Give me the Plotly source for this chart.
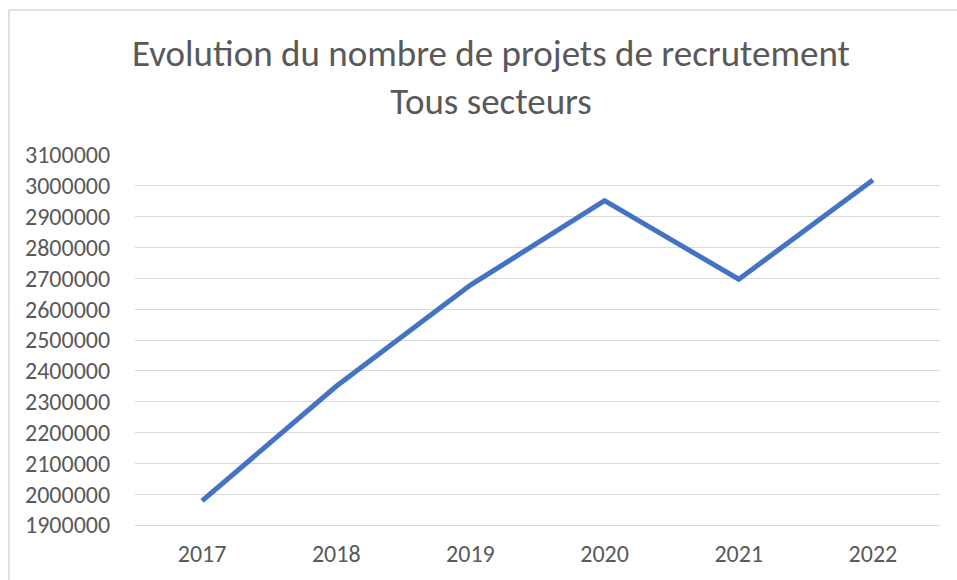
import plotly.graph_objects as go

years = ["2017", "2018", "2019", "2020", "2021", "2022"]
projets = [1978000, 2350000, 2678000, 2952000, 2697000, 3019000]

title_lines = ["Evolution du nombre de projets de recrutement", "Tous secteurs"]
y_min, y_max, y_step = 1900000, 3100000, 100000

W, H = 957, 580
L, R, T, B = 135, 17, 155, 55
plot_w = W - L - R
plot_h = H - T - B

FONT = "Carlito, Calibri, Liberation Sans, Arial, sans-serif"
TXT = "#595959"
GRID = "#d9d9d9"

fig = go.Figure()
fig.add_trace(go.Scatter(
    x=years, y=projets, mode="lines",
    line=dict(color="#4472C4", width=5),
    hoverinfo="x+y", showlegend=False,
))

# chart-area border (top and left edges visible)
bx = (9 - L) / plot_w
by = (H - B - 10) / plot_h
fig.add_shape(type="line", xref="paper", yref="paper", x0=bx, x1=1.5, y0=by, y1=by,
              line=dict(color=GRID, width=1.5))
fig.add_shape(type="line", xref="paper", yref="paper", x0=bx, x1=bx, y0=by, y1=-0.5,
              line=dict(color=GRID, width=1.5))

fig.update_layout(
    width=W, height=H,
    margin=dict(l=L, r=R, t=T, b=B, autoexpand=False),
    paper_bgcolor="white", plot_bgcolor="white",
    font=dict(family=FONT, color=TXT, size=24),
    title=dict(
        text="<br>".join(title_lines),
        x=491 / W, xref="container", xanchor="center",
        y=1 - 66 / H, yref="container", yanchor="middle",
        font=dict(family=FONT, size=37, color=TXT),
    ),
    xaxis=dict(
        type="category", range=[-0.5, len(years) - 0.5],
        showgrid=False, zeroline=False, automargin=False,
        showline=True, linecolor=GRID, linewidth=1,
        ticks="outside", ticklen=7, tickcolor="rgba(0,0,0,0)",
        tickfont=dict(size=24, color=TXT),
    ),
    yaxis=dict(
        range=[y_min, y_max], dtick=y_step, tick0=y_min, automargin=False,
        tickformat="d", showgrid=True, gridcolor=GRID, gridwidth=1.3,
        zeroline=False, showline=False,
        ticks="outside", ticklen=19, tickcolor="rgba(0,0,0,0)",
        tickfont=dict(size=24, color=TXT),
    ),
)

fig.write_html("out.html", config={"displayModeBar": False},
               post_script="document.body.style.margin='0';")
